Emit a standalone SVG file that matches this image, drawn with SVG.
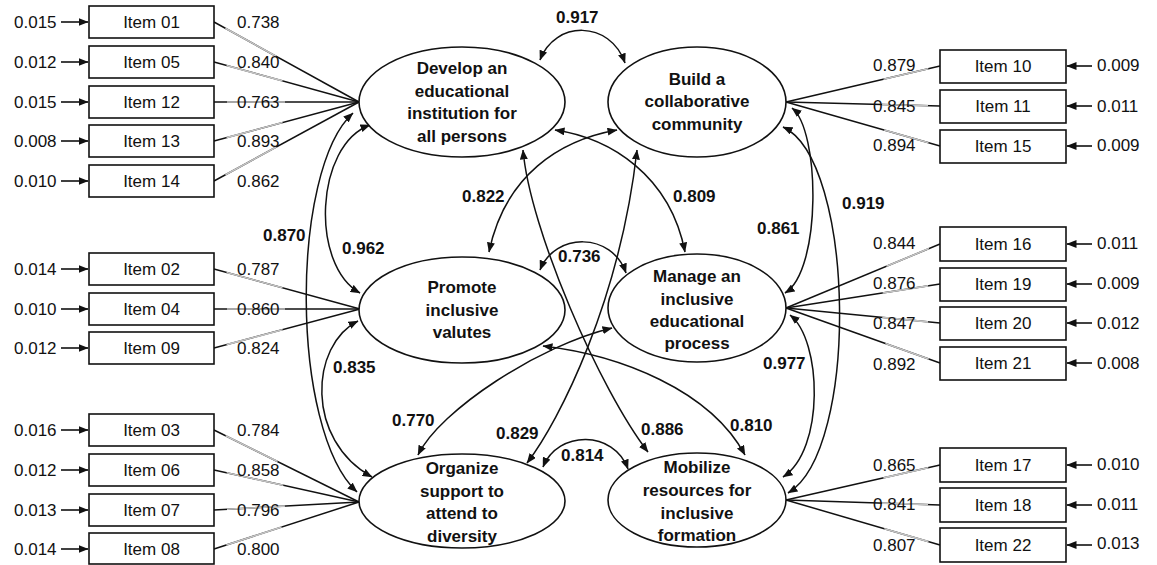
<svg xmlns="http://www.w3.org/2000/svg" width="1157" height="565" viewBox="0 0 1157 565">
<style>
text{font-family:"Liberation Sans",Arial,sans-serif;font-size:17px;fill:#111}
.b{font-weight:bold}
.m{text-anchor:middle}
.box{fill:#fff;stroke:#111;stroke-width:1.6}
.ell{fill:#fff;stroke:#111;stroke-width:1.6}
.ld{fill:none;stroke:#111;stroke-width:1.5}
.fd{fill:none;stroke:#c4c4c4;stroke-width:1.6;stroke-dasharray:0 13 58 2000}
.fr{fill:none;stroke:#c4c4c4;stroke-width:1.6;stroke-dasharray:0 12 46 2000}
.er{fill:none;stroke:#111;stroke-width:1.6;marker-end:url(#ah)}
.cv{fill:none;stroke:#111;stroke-width:1.5;marker-start:url(#ah);marker-end:url(#ah)}
</style>
<defs>
<marker id="ah" markerUnits="userSpaceOnUse" markerWidth="10" markerHeight="8" refX="9.5" refY="4" orient="auto-start-reverse" viewBox="0 0 10 8">
<path d="M0,0 L10,4 L0,8 z" fill="#111"/>
</marker>
</defs>

<g id="loadings">
<path class="ld" d="M214,22 L359,102"/><path class="fd" d="M214,22 L359,102"/>
<path class="ld" d="M214,62 L359,102"/><path class="fd" d="M214,62 L359,102"/>
<path class="ld" d="M214,102 L359,102"/><path class="fd" d="M214,102 L359,102"/>
<path class="ld" d="M214,141 L359,102"/><path class="fd" d="M214,141 L359,102"/>
<path class="ld" d="M214,181 L359,102"/><path class="fd" d="M214,181 L359,102"/>
<path class="ld" d="M214,269 L360,309"/><path class="fd" d="M214,269 L360,309"/>
<path class="ld" d="M214,309 L360,309"/><path class="fd" d="M214,309 L360,309"/>
<path class="ld" d="M214,348 L360,309"/><path class="fd" d="M214,348 L360,309"/>
<path class="ld" d="M214,430 L359,502"/><path class="fd" d="M214,430 L359,502"/>
<path class="ld" d="M214,470 L359,502"/><path class="fd" d="M214,470 L359,502"/>
<path class="ld" d="M214,510 L359,502"/><path class="fd" d="M214,510 L359,502"/>
<path class="ld" d="M214,549 L359,502"/><path class="fd" d="M214,549 L359,502"/>
<path class="ld" d="M940,66 L786,102"/><path class="fr" d="M940,66 L786,102"/>
<path class="ld" d="M940,106 L786,102"/><path class="fr" d="M940,106 L786,102"/>
<path class="ld" d="M940,146 L786,102"/><path class="fr" d="M940,146 L786,102"/>
<path class="ld" d="M940,244 L786,308"/><path class="fr" d="M940,244 L786,308"/>
<path class="ld" d="M940,284 L786,308"/><path class="fr" d="M940,284 L786,308"/>
<path class="ld" d="M940,323 L786,308"/><path class="fr" d="M940,323 L786,308"/>
<path class="ld" d="M940,363 L786,308"/><path class="fr" d="M940,363 L786,308"/>
<path class="ld" d="M940,465 L786,500"/><path class="fr" d="M940,465 L786,500"/>
<path class="ld" d="M940,505 L786,500"/><path class="fr" d="M940,505 L786,500"/>
<path class="ld" d="M940,545 L786,500"/><path class="fr" d="M940,545 L786,500"/>
</g>

<g id="errors">
<path class="er" d="M61,22 L88,22"/><path class="er" d="M61,62 L88,62"/><path class="er" d="M61,102 L88,102"/>
<path class="er" d="M61,141 L88,141"/><path class="er" d="M61,181 L88,181"/>
<path class="er" d="M61,269 L88,269"/><path class="er" d="M61,309 L88,309"/><path class="er" d="M61,348 L88,348"/>
<path class="er" d="M61,430 L88,430"/><path class="er" d="M61,470 L88,470"/><path class="er" d="M61,510 L88,510"/><path class="er" d="M61,549 L88,549"/>
<path class="er" d="M1092,66 L1067,66"/><path class="er" d="M1092,106 L1067,106"/><path class="er" d="M1092,146 L1067,146"/>
<path class="er" d="M1092,244 L1067,244"/><path class="er" d="M1092,284 L1067,284"/><path class="er" d="M1092,323 L1067,323"/><path class="er" d="M1092,363 L1067,363"/>
<path class="er" d="M1092,465 L1067,465"/><path class="er" d="M1092,505 L1067,505"/><path class="er" d="M1092,545 L1067,545"/>
</g>

<g id="correlations">
<path class="cv" d="M540,60 C555,20 610,20 625,63"/>
<path class="cv" d="M353,113 C290,170 290,430 357,492"/>
<path class="cv" d="M370,125 C315,145 310,265 360,293"/>
<path class="cv" d="M358,321 C310,345 305,440 372,477"/>
<path class="cv" d="M617,130 C560,140 505,175 489,252"/>
<path class="cv" d="M555,130 C610,138 670,175 685,252"/>
<path class="cv" d="M540,270 C555,232 612,232 626,273"/>
<path class="cv" d="M792,108 C820,130 822,270 785,293"/>
<path class="cv" d="M783,127 C855,160 860,450 788,493"/>
<path class="cv" d="M790,315 C822,340 825,450 783,477"/>
<path class="cv" d="M418,455 C440,410 540,345 612,328"/>
<path class="cv" d="M527,463 C560,420 620,300 637,150"/>
<path class="cv" d="M523,150 C530,230 600,390 648,452"/>
<path class="cv" d="M543,346 C620,355 710,390 745,455"/>
<path class="cv" d="M543,467 C558,430 614,430 628,469"/>
</g>

<g id="corr-labels">
<text class="b" x="556" y="23">0.917</text>
<text class="b" x="263" y="241">0.870</text>
<text class="b" x="342" y="254">0.962</text>
<text class="b" x="333" y="373">0.835</text>
<text class="b" x="462" y="202">0.822</text>
<text class="b" x="673" y="202">0.809</text>
<text class="b" x="558" y="262">0.736</text>
<text class="b" x="757" y="234">0.861</text>
<text class="b" x="842" y="209">0.919</text>
<text class="b" x="763" y="369">0.977</text>
<text class="b" x="392" y="426">0.770</text>
<text class="b" x="496" y="439">0.829</text>
<text class="b" x="641" y="435">0.886</text>
<text class="b" x="730" y="431">0.810</text>
<text class="b" x="561" y="461">0.814</text>
</g>

<g id="f1"><ellipse class="ell" cx="462" cy="102" rx="103" ry="55"/>
<text class="b m" x="462" y="74">Develop an</text><text class="b m" x="462" y="97">educational</text><text class="b m" x="462" y="119">institution for</text><text class="b m" x="462" y="142">all persons</text></g>
<g id="f2"><ellipse class="ell" cx="697" cy="102" rx="89" ry="55"/>
<text class="b m" x="697" y="85">Build a</text><text class="b m" x="697" y="107">collaborative</text><text class="b m" x="697" y="130">community</text></g>
<g id="f3"><ellipse class="ell" cx="462" cy="310" rx="103" ry="53"/>
<text class="b m" x="462" y="293">Promote</text><text class="b m" x="462" y="316">inclusive</text><text class="b m" x="462" y="338">valutes</text></g>
<g id="f4"><ellipse class="ell" cx="697" cy="308" rx="89" ry="54"/>
<text class="b m" x="697" y="282">Manage an</text><text class="b m" x="697" y="305">inclusive</text><text class="b m" x="697" y="327">educational</text><text class="b m" x="697" y="349">process</text></g>
<g id="f5"><ellipse class="ell" cx="462" cy="501" rx="103" ry="47"/>
<text class="b m" x="462" y="474">Organize</text><text class="b m" x="462" y="497">support to</text><text class="b m" x="462" y="519">attend to</text><text class="b m" x="462" y="542">diversity</text></g>
<g id="f6"><ellipse class="ell" cx="697" cy="500" rx="89" ry="47"/>
<text class="b m" x="697" y="473">Mobilize</text><text class="b m" x="697" y="496">resources for</text><text class="b m" x="697" y="519">inclusive</text><text class="b m" x="697" y="541">formation</text></g>

<g id="i01"><rect class="box" x="89" y="6" width="125" height="32"/><text class="m" x="151.5" y="28">Item 01</text><text x="14" y="28">0.015</text><text x="237" y="28">0.738</text></g>
<g id="i05"><rect class="box" x="89" y="46" width="125" height="32"/><text class="m" x="151.5" y="68">Item 05</text><text x="14" y="68">0.012</text><text x="237" y="68">0.840</text></g>
<g id="i12"><rect class="box" x="89" y="86" width="125" height="32"/><text class="m" x="151.5" y="108">Item 12</text><text x="14" y="108">0.015</text><text x="237" y="108">0.763</text></g>
<g id="i13"><rect class="box" x="89" y="125" width="125" height="32"/><text class="m" x="151.5" y="147">Item 13</text><text x="14" y="147">0.008</text><text x="237" y="147">0.893</text></g>
<g id="i14"><rect class="box" x="89" y="165" width="125" height="32"/><text class="m" x="151.5" y="187">Item 14</text><text x="14" y="187">0.010</text><text x="237" y="187">0.862</text></g>
<g id="i02"><rect class="box" x="89" y="253" width="125" height="32"/><text class="m" x="151.5" y="275">Item 02</text><text x="14" y="275">0.014</text><text x="237" y="275">0.787</text></g>
<g id="i04"><rect class="box" x="89" y="293" width="125" height="32"/><text class="m" x="151.5" y="315">Item 04</text><text x="14" y="315">0.010</text><text x="237" y="315">0.860</text></g>
<g id="i09"><rect class="box" x="89" y="332" width="125" height="32"/><text class="m" x="151.5" y="354">Item 09</text><text x="14" y="354">0.012</text><text x="237" y="354">0.824</text></g>
<g id="i03"><rect class="box" x="89" y="414" width="125" height="32"/><text class="m" x="151.5" y="436">Item 03</text><text x="14" y="436">0.016</text><text x="237" y="436">0.784</text></g>
<g id="i06"><rect class="box" x="89" y="454" width="125" height="32"/><text class="m" x="151.5" y="476">Item 06</text><text x="14" y="476">0.012</text><text x="237" y="476">0.858</text></g>
<g id="i07"><rect class="box" x="89" y="494" width="125" height="32"/><text class="m" x="151.5" y="516">Item 07</text><text x="14" y="516">0.013</text><text x="237" y="516">0.796</text></g>
<g id="i08"><rect class="box" x="89" y="533" width="125" height="31"/><text class="m" x="151.5" y="555">Item 08</text><text x="14" y="555">0.014</text><text x="237" y="555">0.800</text></g>

<g id="i10"><rect class="box" x="940" y="50" width="126" height="33"/><text class="m" x="1003" y="72">Item 10</text><text x="873" y="71">0.879</text><text x="1097" y="71">0.009</text></g>
<g id="i11"><rect class="box" x="940" y="90" width="126" height="33"/><text class="m" x="1003" y="112">Item 11</text><text x="873" y="112">0.845</text><text x="1097" y="112">0.011</text></g>
<g id="i15"><rect class="box" x="940" y="130" width="126" height="33"/><text class="m" x="1003" y="152">Item 15</text><text x="873" y="151">0.894</text><text x="1097" y="151">0.009</text></g>
<g id="i16"><rect class="box" x="940" y="227" width="126" height="34"/><text class="m" x="1003" y="250">Item 16</text><text x="873" y="249">0.844</text><text x="1097" y="249">0.011</text></g>
<g id="i19"><rect class="box" x="940" y="268" width="126" height="33"/><text class="m" x="1003" y="290">Item 19</text><text x="873" y="289">0.876</text><text x="1097" y="289">0.009</text></g>
<g id="i20"><rect class="box" x="940" y="307" width="126" height="33"/><text class="m" x="1003" y="329">Item 20</text><text x="873" y="329">0.847</text><text x="1097" y="329">0.012</text></g>
<g id="i21"><rect class="box" x="940" y="347" width="126" height="33"/><text class="m" x="1003" y="369">Item 21</text><text x="873" y="370">0.892</text><text x="1097" y="369">0.008</text></g>
<g id="i17"><rect class="box" x="940" y="448" width="126" height="34"/><text class="m" x="1003" y="471">Item 17</text><text x="873" y="471">0.865</text><text x="1097" y="470">0.010</text></g>
<g id="i18"><rect class="box" x="940" y="488" width="126" height="34"/><text class="m" x="1003" y="511">Item 18</text><text x="873" y="510">0.841</text><text x="1097" y="510">0.011</text></g>
<g id="i22"><rect class="box" x="940" y="528" width="126" height="34"/><text class="m" x="1003" y="551">Item 22</text><text x="873" y="551">0.807</text><text x="1097" y="549">0.013</text></g>
</svg>
